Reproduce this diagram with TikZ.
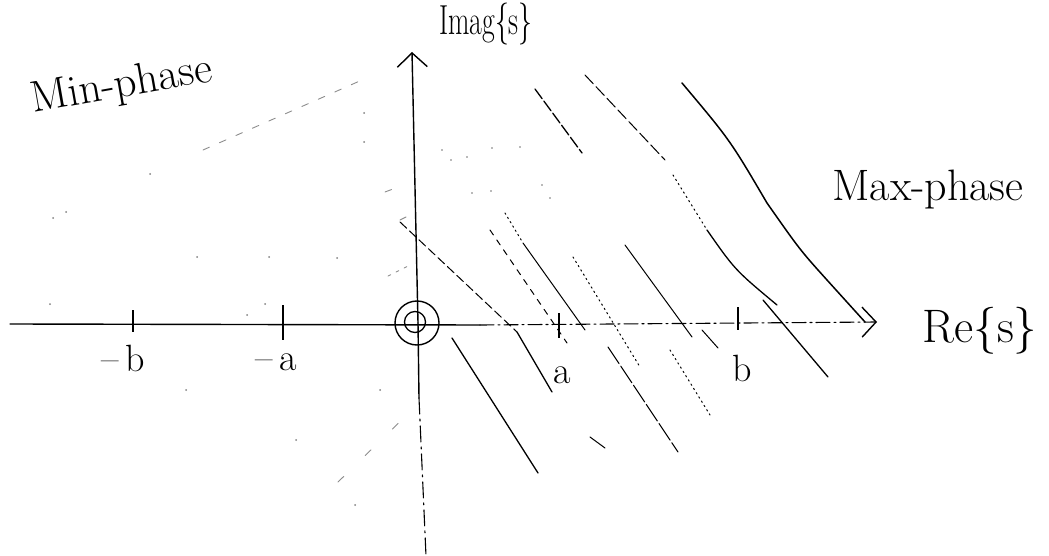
\documentclass[tikz,border=0pt]{standalone}
\usetikzlibrary{arrows.meta}
\begin{document}
\begin{tikzpicture}[x=1pt,y=-1pt,
  axisline/.style={line width=1.4pt, line cap=round},
  hatch/.style={line width=1.3pt, line cap=round},
  hthin/.style={line width=1pt, line cap=round},
  hdot/.style={line width=1pt, line cap=round, dash pattern=on 1.5pt off 3.5pt},
  hdash/.style={line width=1pt, line cap=round, dash pattern=on 9pt off 4pt},
  faint/.style={black!45, line width=0.9pt, line cap=round, dash pattern=on 7pt off 11pt},
  lbl/.style={inner sep=0pt, font=\fontsize{42}{46}\selectfont},
  tlbl/.style={inner sep=0pt, font=\fontsize{38}{40}\selectfont},
  tickmark/.style={line width=1.4pt},
  barb/.style={-{Straight Barb[length=14pt,width=30pt,line width=1.4pt]}}
]
\useasboundingbox (0,0) rectangle (1049,556);

% axis end points
\coordinate (xl) at (10,324);
\coordinate (xs) at (480,325);
\coordinate (xr) at (877,322);
\coordinate (yt) at (412,52);
\coordinate (yo) at (418,323);
\coordinate (ym) at (419,398);
\coordinate (yb) at (426,556);

% origin marker
\node[draw, circle, minimum size=44pt, line width=1.4pt, inner sep=0pt] (orig) at (417,323) {};
\node[draw, circle, minimum size=21pt, line width=1.3pt, inner sep=0pt] (origin) at (415,322) {};

% real axis
\draw[axisline] (xl) -- (xs);
\draw[axisline, line width=1.1pt, dash pattern=on 14pt off 4pt on 2pt off 4pt, barb] (xs) -- (xr);
% imaginary axis
\draw[axisline, barb] (yo) -- (yt);
\draw[axisline] (yo) -- (ym);
\draw[axisline, line width=1.1pt, dash pattern=on 16pt off 5pt on 2pt off 5pt] (ym) -- (yb);

% ticks
\coordinate (tb1) at (133,310); \coordinate (tb2) at (133,332);
\coordinate (ta1) at (283,305); \coordinate (ta2) at (283,340);
\coordinate (pa1) at (559,313); \coordinate (pa2) at (559,338);
\coordinate (pb1) at (738,307); \coordinate (pb2) at (738,330);
\draw[tickmark] (tb1) -- (tb2);
\draw[tickmark] (ta1) -- (ta2);
\draw[tickmark] (pa1) -- (pa2);
\draw[tickmark] (pb1) -- (pb2);

% tick labels
\node[tlbl] (lmb) at (123,358) {--\,b};
\node[tlbl] (lma) at (276,362) {--\,a};
\node[tlbl] (la) at (562,375) {a};
\node[tlbl] (lb) at (742,368) {b};

% axis labels and region labels
\node[lbl, font=\fontsize{42}{46}\selectfont, xscale=0.66] (im) at (486,24) {Imag\{s\}};
\node[lbl, font=\fontsize{47}{50}\selectfont] (re) at (980,331) {Re\{s\}};
\node[lbl, font=\fontsize{44}{48}\selectfont] (maxp) at (928,190) {Max-phase};
\node[lbl, font=\fontsize{44}{48}\selectfont, rotate=10] (minp) at (122,86) {Min-phase};

% hatching of the right half-plane
\coordinate (h1a) at (535,89);  \coordinate (h1b) at (582,153);
\draw[hatch, dash pattern=on 12pt off 3pt] (h1a) -- (h1b);
\coordinate (h2a) at (585,75);  \coordinate (h2b) at (665,160);
\coordinate (h2c) at (673,175); \coordinate (h2d) at (707,230);
\coordinate (h2e) at (777,305);
\draw[hthin, dash pattern=on 12pt off 4pt] (h2a) -- (h2b);
\draw[hdot] (h2c) -- (h2d);
\draw[hatch] (h2d) .. controls (735,270) .. (h2e);
\coordinate (h3a) at (682,83); \coordinate (h3b) at (767,203);
\coordinate (h3c) at (827,280); \coordinate (h3d) at (865,322);
\draw[hatch, line width=1.5pt] (h3a) .. controls (730,140) .. (h3b) .. controls (800,250) .. (h3c) -- (h3d);
\coordinate (h4a) at (763,300); \coordinate (h4b) at (828,377);
\draw[hatch] (h4a) -- (h4b);
\coordinate (h5a) at (400,222); \coordinate (h5b) at (517,332); \coordinate (h5c) at (552,392);
\draw[hdash] (h5a) -- (h5b);
\draw[hatch] (h5b) -- (h5c);
\coordinate (h6a) at (452,338); \coordinate (h6b) at (538,473);
\draw[hatch] (h6a) -- (h6b);
\coordinate (h7a) at (505,213); \coordinate (h7b) at (523,243); \coordinate (h7c) at (585,330);
\draw[hdot] (h7a) -- (h7b);
\draw[hthin] (h7b) -- (h7c);
\coordinate (h8a) at (490,230); \coordinate (h8b) at (567,343);
\draw[hdash, dash pattern=on 6pt off 6pt] (h8a) -- (h8b);
\coordinate (h9a) at (573,257); \coordinate (h9b) at (640,367);
\draw[hdot] (h9a) -- (h9b);
\coordinate (h10a) at (608,347); \coordinate (h10b) at (678,452);
\draw[hthin, dash pattern=on 20pt off 3pt] (h10a) -- (h10b);
\coordinate (h11a) at (670,350); \coordinate (h11b) at (710,415);
\draw[hdot] (h11a) -- (h11b);
\coordinate (h12a) at (625,245); \coordinate (h12b) at (692,337);
\draw[hthin] (h12a) -- (h12b);
\coordinate (h13a) at (702,330); \coordinate (h13b) at (718,348);
\draw[hthin] (h13a) -- (h13b);
\coordinate (h14a) at (590,437); \coordinate (h14b) at (605,448);
\draw[hthin] (h14a) -- (h14b);
% faint dots in the upper right region
\foreach \p in {(442,150),(451,160),(467,157),(492,148),(472,193),(491,191),(542,185),(550,198),(520,147)}
  \fill[black!55] \p circle (0.8pt);

% faint marks of the left half-plane
\coordinate (f1a) at (203,150); \coordinate (f1b) at (362,80);
\draw[faint] (f1a) -- (f1b);
\coordinate (f2a) at (385,192); \coordinate (f2b) at (393,189);
\draw[faint] (f2a) -- (f2b);
\coordinate (f3a) at (400,220); \coordinate (f3b) at (406,217);
\draw[faint] (f3a) -- (f3b);
\coordinate (f4a) at (388,276); \coordinate (f4b) at (408,266);
\draw[faint, dash pattern=on 3pt off 6pt] (f4a) -- (f4b);
\coordinate (f5a) at (338,482); \coordinate (f5b) at (415,407);
\draw[faint, dash pattern=on 8pt off 30pt] (f5a) -- (f5b);
\foreach \p in {(53,218),(66,212),(150,174),(197,257),(269,257),(337,258),(364,113),(364,142),
                (186,390),(380,390),(296,440),(355,505),(50,304),(247,315),(265,304)}
  \fill[black!50] \p circle (1pt);
\end{tikzpicture}
\end{document}
